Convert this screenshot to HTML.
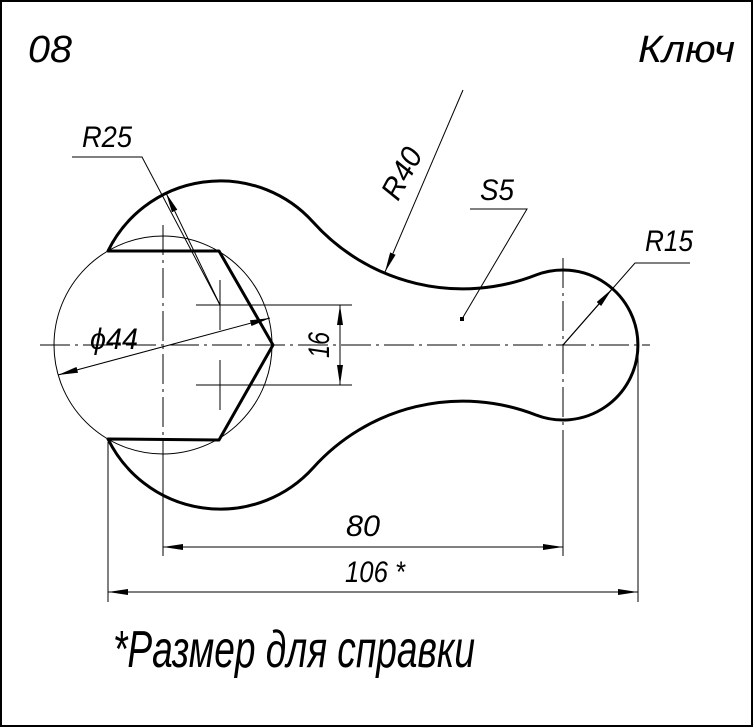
<!DOCTYPE html>
<html><head><meta charset="utf-8"><style>
html,body{margin:0;padding:0;background:#fff;}
svg{display:block;}
text{font-family:"Liberation Sans",sans-serif;font-style:italic;fill:#000;}
</style></head><body>
<svg width="753" height="727" viewBox="0 0 753 727" xmlns="http://www.w3.org/2000/svg">
<defs>
<marker id="a" viewBox="0 0 20 6" refX="20" refY="3" markerWidth="20" markerHeight="6" markerUnits="userSpaceOnUse" orient="auto-start-reverse">
<path d="M0,0 L20,3 L0,6 Z" fill="#000"/>
</marker>
</defs>
<rect x="1" y="1" width="751" height="725" fill="none" stroke="#000" stroke-width="2"/>

<g stroke="#000" stroke-width="1" fill="none" stroke-dasharray="30,5,3,5">
<line x1="40" y1="345" x2="650" y2="345"/>
<line x1="163" y1="225" x2="163" y2="470"/>
<line x1="563" y1="258" x2="563" y2="430"/>
</g>
<g stroke="#000" stroke-width="1" fill="none">
<line x1="163" y1="470" x2="163" y2="556"/>
<line x1="563" y1="430" x2="563" y2="556"/>
<circle cx="163" cy="345" r="109"/>
<line x1="220" y1="280" x2="220" y2="330"/>
<line x1="220" y1="360" x2="220" y2="410"/>
<line x1="196" y1="305" x2="352" y2="305"/>
<line x1="196" y1="385" x2="352" y2="385"/>
<line x1="108" y1="442" x2="108" y2="602"/>
<line x1="638" y1="350" x2="638" y2="602"/>
<line x1="340" y1="305" x2="340" y2="385" marker-start="url(#a)" marker-end="url(#a)"/>
<line x1="58" y1="375" x2="270" y2="318" marker-start="url(#a)" marker-end="url(#a)"/>
<line x1="163" y1="547" x2="563" y2="547" marker-start="url(#a)" marker-end="url(#a)"/>
<line x1="108" y1="592" x2="638" y2="592" marker-start="url(#a)" marker-end="url(#a)"/>
<polyline points="72,157 142,157 220,305"/>
<line x1="220" y1="305" x2="166" y2="193" marker-end="url(#a)"/>
<line x1="463" y1="90" x2="385" y2="272" marker-end="url(#a)"/>
<polyline points="470,209 527,209 462,319"/>
<polyline points="690,263 635,263 563,345"/>
<line x1="563" y1="345" x2="612" y2="289" marker-end="url(#a)"/>
</g>
<rect x="460" y="317" width="4" height="4" fill="#000"/>

<path d="M108,251 A125,125 0 0 1 313,222 A201,201 0 0 0 536,275 A75,75 0 1 1 536,415 A201,201 0 0 0 313,468 A125,125 0 0 1 108,439 L219,440 L273,345 L219,251 Z" fill="none" stroke="#000" stroke-width="3" stroke-linejoin="round"/>

<text x="28" y="62" font-size="38" textLength="44" lengthAdjust="spacingAndGlyphs">08</text>
<text x="638" y="62" font-size="38" textLength="97" lengthAdjust="spacingAndGlyphs">Ключ</text>
<text x="82" y="147" font-size="30" textLength="50" lengthAdjust="spacingAndGlyphs">R25</text>
<text x="90" y="349" font-size="30" textLength="48" lengthAdjust="spacingAndGlyphs">ϕ44</text>
<text transform="translate(329,358) rotate(-90)" font-size="30" textLength="26" lengthAdjust="spacingAndGlyphs">16</text>
<text transform="translate(398,202) rotate(-62)" font-size="30" textLength="54" lengthAdjust="spacingAndGlyphs">R40</text>
<text x="480" y="200" font-size="30" textLength="34" lengthAdjust="spacingAndGlyphs">S5</text>
<text x="645" y="251" font-size="30" textLength="48" lengthAdjust="spacingAndGlyphs">R15</text>
<text x="346" y="536" font-size="30" textLength="34" lengthAdjust="spacingAndGlyphs">80</text>
<text x="345" y="582" font-size="30" textLength="60" lengthAdjust="spacingAndGlyphs">106 *</text>
<text x="113" y="667" font-size="52" textLength="362" lengthAdjust="spacingAndGlyphs">*Размер для справки</text>
</svg>
</body></html>
